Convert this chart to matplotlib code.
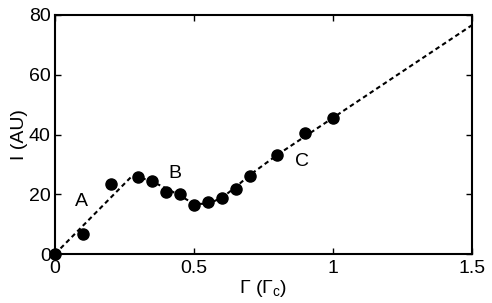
import matplotlib
matplotlib.use('Agg')
import matplotlib.pyplot as plt

# measured points
gamma = [0, 0.1, 0.2, 0.3, 0.35, 0.4, 0.45, 0.5, 0.55, 0.6, 0.65, 0.7, 0.8, 0.9, 1.0]
intensity = [0, 6.6, 23.5, 25.8, 24.5, 20.7, 20.1, 16.3, 17.5, 18.7, 21.7, 26.2, 33.1, 40.6, 45.6]

# model curve
gamma_fit = [0, 0.275, 0.3, 0.35, 0.4, 0.45, 0.5, 0.55, 0.6, 0.65, 0.7, 0.8, 0.9, 1.0, 1.5]
intensity_fit = [0, 25.9, 25.8, 24.2, 22.0, 19.5, 16.8, 16.8, 18.8, 22.4, 26.4, 33.2, 39.4, 45.6, 76.6]

# region labels
labels = ['A', 'B', 'C']
label_x = [0.096, 0.43, 0.887]
label_y = [17.5, 27.0, 30.9]

plt.rcParams['font.family'] = ['Liberation Sans', 'DejaVu Sans']
plt.rcParams['mathtext.fontset'] = 'custom'
plt.rcParams['mathtext.rm'] = 'Liberation Sans'

fs = 14

fig = plt.figure(figsize=(4.92, 3.03), dpi=100)
ax = fig.add_axes([0.1118, 0.1617, 0.8475, 0.7888])

ax.plot(gamma_fit, intensity_fit, color='k', linestyle=(0, (2.2, 1.6)), linewidth=1.5)
ax.plot(gamma, intensity, 'o', color='k', markersize=8, clip_on=False)

for lab, lx, ly in zip(labels, label_x, label_y):
	ax.text(lx, ly, lab, fontsize=fs, ha='center', va='center')

ax.set_xlim(0, 1.5)
ax.set_ylim(0, 80)
ax.set_xticks([0, 0.5, 1, 1.5])
ax.set_xticklabels(['0', '0.5', '1', '1.5'])
ax.set_yticks([0, 20, 40, 60, 80])
ax.tick_params(direction='in', top=True, right=True, labelsize=fs, length=4, width=1)
ax.tick_params(axis='x', pad=4)
ax.tick_params(axis='y', pad=3)
for sp in ax.spines.values():
	sp.set_linewidth(1.5)

ax.set_xlabel(r'$\Gamma$ ($\Gamma_{\rm c}$)', fontsize=fs, labelpad=1)
ax.set_ylabel('I (AU)', fontsize=fs, labelpad=1)

plt.savefig('out.png', dpi=100, facecolor='w')
